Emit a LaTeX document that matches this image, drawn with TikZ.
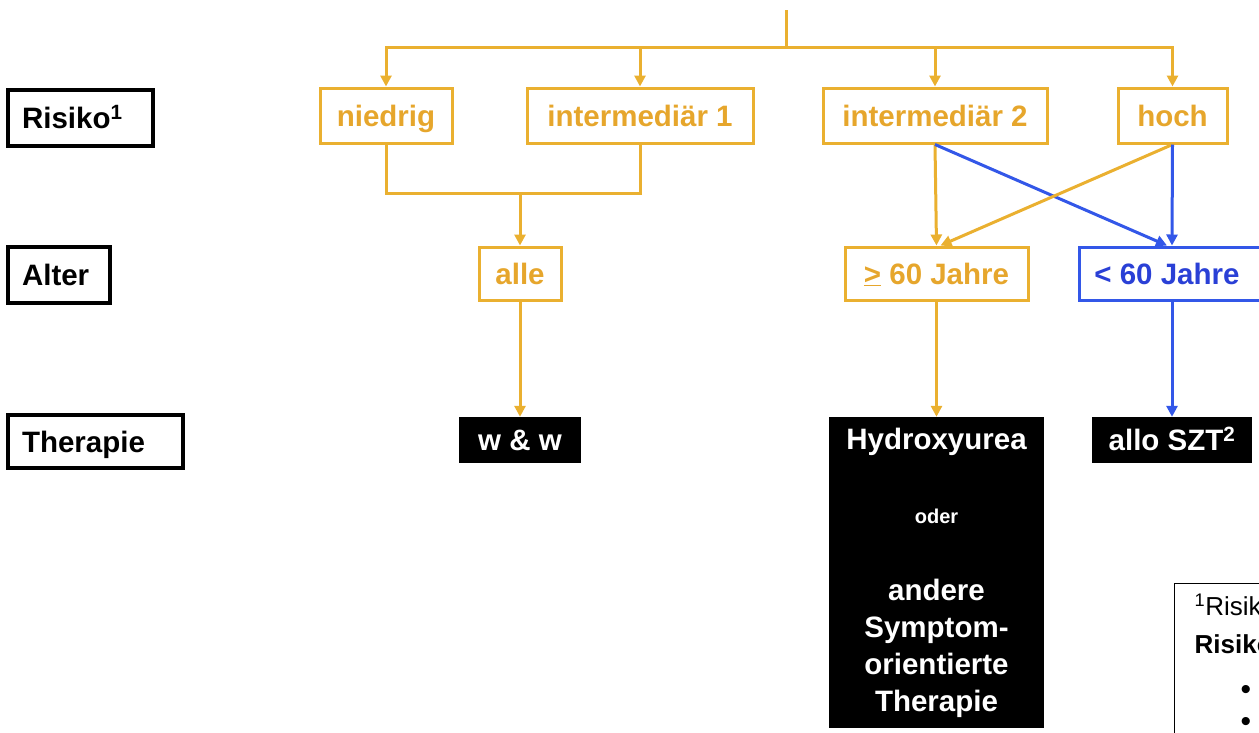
\documentclass[tikz,border=0pt]{standalone}
\usepackage{fontspec}
\setmainfont{Liberation Sans}
\usetikzlibrary{arrows.meta}
\definecolor{yel}{HTML}{EAB030}
\definecolor{yeltext}{HTML}{E6A62C}
\definecolor{blu}{HTML}{3357E8}
\definecolor{blutext}{HTML}{2A40D6}
\begin{document}
\begin{tikzpicture}[x=1pt,y=-1pt,
  big/.style={font=\fontsize{29.5}{37}\selectfont\bfseries},
  oneline/.style={text height=24pt, text depth=3pt},
  ybox/.style={draw=yel, line width=3pt, text=yeltext, big, oneline, inner sep=0pt},
  bbox/.style={draw=blu, line width=3pt, text=blutext, big, oneline, inner sep=0pt},
  lbox/.style={draw=black, line width=3.5pt, big, oneline, inner xsep=14pt, inner ysep=0pt},
  kbox/.style={fill=black, text=white, big, inner sep=0pt, align=center},
  yline/.style={draw=yel, line width=3pt},
  yarr/.style={yline, -{Triangle[length=11pt,width=11pt]}},
  barr/.style={draw=blu, line width=3pt, -{Triangle[length=11pt,width=11pt]}}]
\useasboundingbox (0,0) rectangle (1259,732);
\clip (0,0) rectangle (1259,732);

% left labels
\node[lbox, text width=117pt, minimum height=56pt] (risiko) at (80.5,118) {Risiko\textsuperscript{1}};
\node[lbox, text width=74pt, minimum height=56pt] (alter) at (59,275) {Alter};
\node[lbox, text width=147pt, minimum height=53pt] (therapie) at (95.5,441.5) {Therapie};

% risk nodes
\node[ybox, minimum width=132pt, minimum height=55pt] (niedrig) at (386,115.5) {niedrig};
\node[ybox, minimum width=226pt, minimum height=55pt] (inter1) at (640,115.5) {intermediär 1};
\node[ybox, minimum width=224pt, minimum height=55pt] (inter2) at (935,115.5) {intermediär 2};
\node[ybox, minimum width=109pt, minimum height=55pt] (hoch) at (1172.5,115.5) {hoch};

% age nodes
\node[ybox, minimum width=82pt, minimum height=53pt] (alle) at (520,273.5) {alle};
\node[ybox, minimum width=183pt, minimum height=53pt] (ge60) at (936.5,273.5) {\underline{>} 60 Jahre};
\node[bbox, minimum width=186pt, minimum height=53pt] (lt60) at (1172,273.5) {\hspace*{-10pt}< 60 Jahre};

% therapy nodes
\node[kbox, oneline, minimum width=122pt, minimum height=46pt] (ww) at (520,440) {w \& w};
\node[kbox, minimum width=215pt, minimum height=311pt] (hydro) at (936.5,572.5)
  {Hydroxyurea\\[37pt]{\fontsize{20}{37}\selectfont oder}\\[40pt]andere\\Symptom-\\orientierte\\Therapie};
\node[kbox, oneline, minimum width=160pt, minimum height=46pt] (allo) at (1172,440) {allo SZT\textsuperscript{2}};

% footnote box (cut off at the picture edge)
\node[draw=black, line width=1.3pt, anchor=north west, inner xsep=20pt, inner ysep=10pt,
      text width=300pt, align=left, font=\fontsize{26}{38}\selectfont] (fn) at (1174,583)
  {\textsuperscript{1}Risiko\\\textbf{Risiko}\\[8pt]\hspace*{46pt}{\fontsize{30}{30}\selectfont\textbullet}\\[-6pt]\hspace*{46pt}{\fontsize{30}{30}\selectfont\textbullet}\\[20pt]};

% top distribution
\coordinate (top) at (786,10);
\coordinate (bar) at (786,47);
\draw[yline] (top) -- (bar);
\draw[yarr] (bar) -| (niedrig.north);
\draw[yarr] (bar) -| (hoch.north);
\draw[yarr] (inter1.north |- bar) -- (inter1.north);
\draw[yarr] (inter2.north |- bar) -- (inter2.north);

% join niedrig / intermediaer 1
\coordinate (join) at (520,193);
\draw[yline] (niedrig.south) |- (join) -| (inter1.south);
\draw[yarr] (join) -- (alle.north);

% crossing
\draw[yarr] (inter2.south) -- (ge60.north);
\draw[barr] (inter2.south) -- ([xshift=-5pt]lt60.north);
\draw[yarr] (hoch.south) -- ([xshift=4pt]ge60.north);
\draw[barr] (hoch.south) -- (lt60.north);

% to therapy
\draw[yarr] (alle.south) -- (ww.north);
\draw[yarr] (ge60.south) -- (hydro.north);
\draw[barr] (lt60.south) -- (allo.north);
\end{tikzpicture}
\end{document}
